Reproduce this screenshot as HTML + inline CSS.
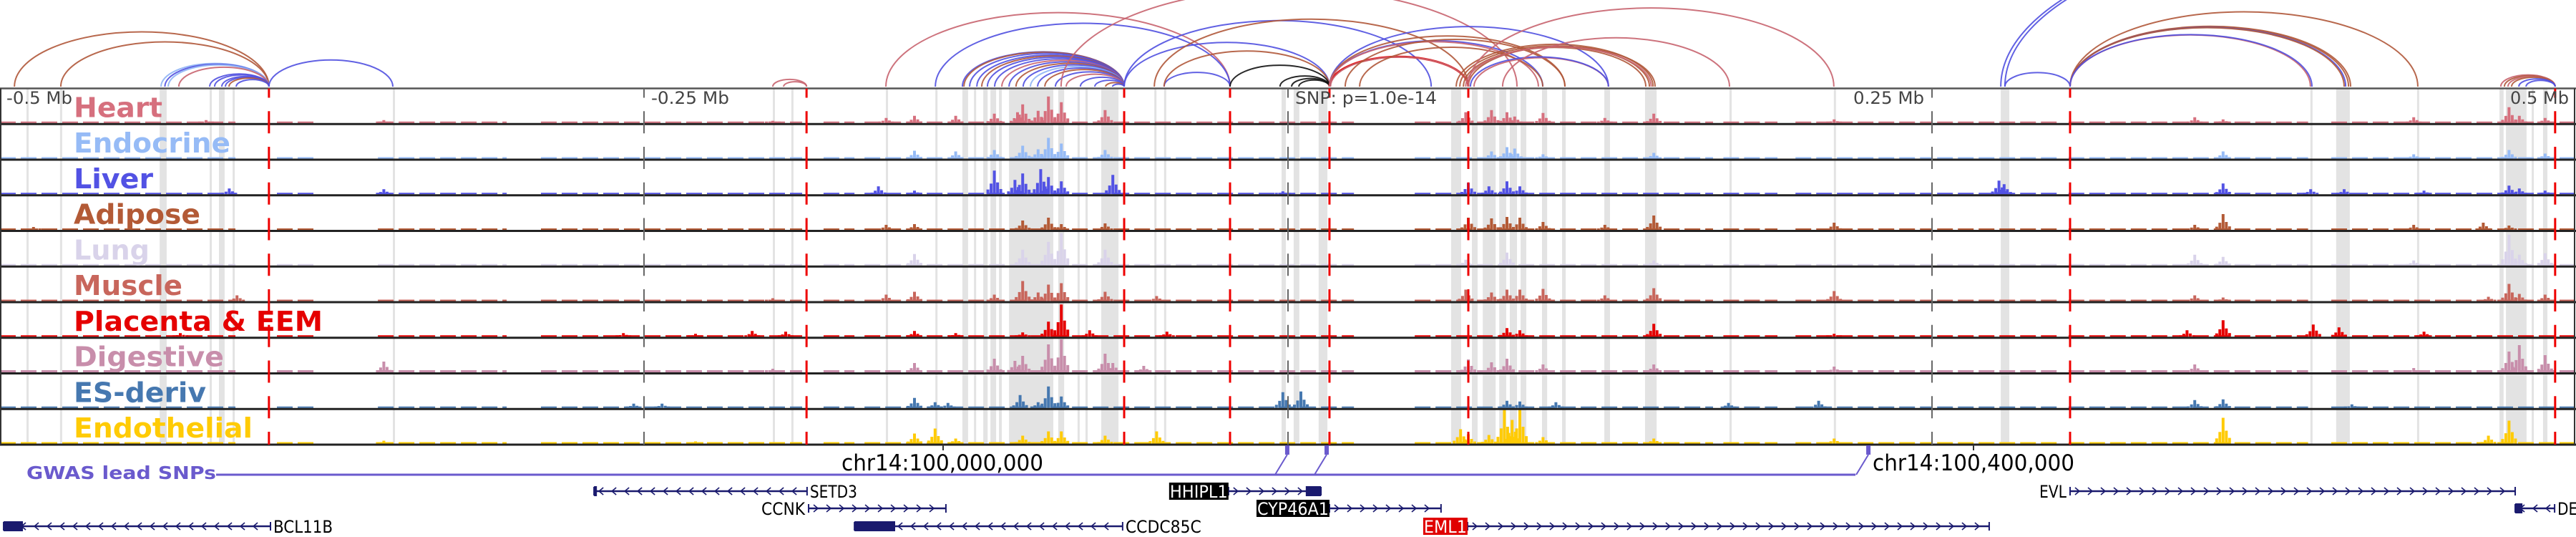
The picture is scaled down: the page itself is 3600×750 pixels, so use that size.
<!DOCTYPE html>
<html><head><meta charset="utf-8"><style>
html,body{margin:0;padding:0;background:#fff;}
svg{display:block;}
text{font-family:"DejaVu Sans","Liberation Sans",sans-serif;}
</style></head><body>
<svg id="chart" width="3600" height="750" viewBox="0 0 3600 750" xmlns="http://www.w3.org/2000/svg">
<g id="bands"></g>
<g id="arcs"></g>
<g id="tracks"></g>
<g id="frames"></g>
<g id="vlines"></g>
<g id="labels"></g>
<g id="axis"></g>
<g id="gwas"></g>
<g id="genes"></g>
</svg>
<script>
// ---------- data (positions in kb relative to lead SNP) ----------
const trackNames = ["Heart","Endocrine","Liver","Adipose","Lung","Muscle","Placenta & EEM","Digestive","ES-deriv","Endothelial"];
const trackColors = ["#d6707e","#96bbf6","#5252e4","#b35a36","#d9d3ea","#c8665c","#e50000","#c88eab","#4678b0","#ffcb05"];
const labelWidths = [124,219,111,177,106,152,348,210,185,250];
const baseLevels = [2,2,2,2,2,2,2,3,2,2];
const coverage = [[-500,-408.6],[-392.5,-376.7],[-353.3,-303.3],[-290,-188.6],[-180.3,-168.3],[-164.4,25.6],[49.2,165],[169,190],[197,250],[252,300],[303,396],[405,500]];
const peaksHeart = [[-420,4],[-351,4],[-200,3],[-156,7],[-145,10],[-129,10],[-114,13],[-105,15],[-103,26],[-97,17],[-93,37],[-88,29],[-71,18],[69,15],[79,18],[85,15],[88,9],[99,14],[123,7],[142,13],[212,5],[352,8],[363,5],[437,8],[474,22],[478,10],[488,7]];
const peaksEndocrine = [[-145,11],[-129,10],[-114,12],[-103,18],[-97,13],[-93,29],[-88,21],[-71,12],[79,10],[85,16],[88,14],[99,6],[142,8],[363,10],[437,6],[474,12],[488,7]];
const peaksLiver = [[-411,8],[-351,7],[-159,11],[-145,5],[-114,33],[-106,20],[-103,29],[-96,35],[-93,24],[-88,18],[-68,27],[-2,4],[70,16],[78,11],[85,18],[90,11],[276,19],[278,14],[363,15],[397,7],[410,7],[441,5],[474,12],[478,8],[488,5]];
const peaksAdipose = [[-487,4],[-156,7],[-145,8],[-103,13],[-93,17],[-88,8],[-71,9],[70,17],[79,16],[85,18],[90,17],[99,11],[123,7],[142,20],[212,10],[352,7],[363,22],[437,7],[464,10],[474,6]];
const peaksLung = [[-145,16],[-103,22],[-93,33],[-88,45],[-71,22],[69,8],[85,18],[142,7],[352,15],[363,12],[437,7],[474,43],[478,15],[488,17]];
const peaksMuscle = [[-408,8],[-200,4],[-156,9],[-145,13],[-114,9],[-103,28],[-97,12],[-93,23],[-88,25],[-71,13],[-51,7],[69,16],[79,12],[85,16],[90,16],[99,17],[123,8],[142,18],[212,14],[352,8],[363,5],[466,6],[474,24],[478,10],[488,9]];
const peaksPlacenta = [[-430,5],[-258,5],[-230,4],[-208,8],[-195,7],[-145,8],[-129,5],[-103,6],[-93,21],[-88,45],[-77,9],[-47,7],[85,12],[90,9],[142,18],[212,4],[349,9],[363,23],[398,17],[408,13],[441,7]];
const peaksDigestive = [[-351,15],[-200,5],[-145,13],[-114,19],[-106,16],[-103,23],[-93,39],[-88,46],[-71,26],[-68,13],[-56,9],[70,18],[79,14],[85,19],[99,11],[142,11],[212,8],[352,11],[437,6],[474,29],[478,38],[488,24]];
const peaksEsDeriv = [[-254,6],[-243,6],[-145,14],[-137,8],[-132,7],[-104,18],[-97,8],[-93,30],[-88,16],[-2,22],[5,23],[85,10],[90,9],[104,8],[171,7],[206,10],[352,11],[363,12],[413,5]];
const peaksEndothelial = [[-351,4],[-230,3],[-145,14],[-137,21],[-129,7],[-103,11],[-93,17],[-88,17],[-71,11],[-51,17],[67,20],[70,13],[78,12],[84,47],[87,33],[90,47],[99,9],[142,7],[212,7],[363,36],[466,11],[474,32]];
const trackPeaks = [peaksHeart,peaksEndocrine,peaksLiver,peaksAdipose,peaksLung,peaksMuscle,peaksPlacenta,peaksDigestive,peaksEsDeriv,peaksEndothelial];
const bands = [[-489.7,-488.9],[-476.7,-475.9],[-438,-435.3],[-418.6,-417.8],[-415,-412.8],[-409.7,-408.9],[-347.5,-346.7],[-200,-199.2],[-192.8,-192],[-156.1,-155.3],[-136.9,-136.1],[-126.4,-124.2],[-121.9,-121.1],[-118.3,-116.6],[-115.5,-113.3],[-112.2,-111.1],[-108.3,-91.1],[-89.2,-86.9],[-81.7,-80.9],[-78.6,-77.8],[-72.5,-65.8],[-51.9,-51.1],[-48.1,-47.3],[-2.5,-0.8],[2.2,4.4],[11.9,15.3],[63.3,67.2],[71.4,73.6],[75.6,80.6],[82,84.7],[86.1,88.9],[90.3,92.5],[98.6,100.6],[106.4,107.8],[122.8,125],[138.6,143.1],[171.4,172.2],[211.9,212.7],[276.7,280],[396.9,397.7],[406.9,412.2],[438.3,439.1],[470.3,471.9],[472.8,480.8],[482.8,483.6],[487.2,488.9]];
const arcColors = ["#c8646f","#5050e0","#b0583a","#8fb4f5","#111111","#e00000"];
const arcs = [[-494.4,-395.6,2],[-476.4,-395.6,2],[-437.5,-395.6,3],[-436,-395.6,1],[-434.7,-395.6,3],[-430.6,-395.6,0],[-418.6,-395.6,1],[-416.7,-395.6,1],[-413.9,-395.6,1],[-412.5,-395.6,1],[-411.1,-395.6,2],[-408.3,-395.6,1],[-395.6,-347.5,1],[-200,-186.9,0],[-195.8,-186.9,0],
[-156.1,-22.5,0],[-136.9,-22.5,1],[-126.4,-63.6,1],[-125.8,-63.6,2],[-123.6,-63.6,1],[-120.8,-63.6,1],[-118.9,-63.6,2],[-116.7,-63.6,1],[-113.9,-63.6,1],[-111.1,-63.6,0],[-108.3,-63.6,1],[-105.6,-63.6,2],[-102.8,-63.6,1],[-100,-63.6,3],[-97.2,-63.6,1],[-94.4,-63.6,2],[-90.3,-63.6,1],[-86.1,-63.6,0],[-80.6,-63.6,1],[-75,-63.6,1],[-70.8,-63.6,2],[-68.1,-63.6,1],
[-88.1,88.9,0],[-63.6,16.1,1],[-63.6,55.6,1],[-51.9,70,2],[-48.1,-22.5,1],[-48.1,16.1,2],[-22.5,16.1,4],[-3.1,16.1,4],[1.4,16.1,4],[4.2,16.1,4],
[16.1,70,5],[16.5,70,0],[16.1,98.9,1],[16.1,124.4,1],[16.1,107.5,2],[16.1,97.2,0],[22.2,107.5,2],[27.8,98.9,2],[65.3,141.7,2],[66.7,140.3,2],[68.1,138.9,2],[70,142.5,2],[69,141,0],[72.2,124.4,0],[70.8,124.4,1],[70,211.9,0],[83.3,171.4,0],
[276.7,560,1],[278.3,560,1],[278.3,303.6,1],[303.6,438.6,2],[303.6,412.5,2],[303.6,411.7,2],[303.6,410.6,1],[303.6,410,2],[303.6,396.9,0],[303.6,397.5,1],
[470.8,491.9,0],[472.2,491.9,2],[473.6,491.9,0],[475,491.9,2],[477.8,491.9,1],[480.6,491.9,1]];
const redLines = [-395.6,-186.9,-63.6,-22.5,16.1,70,303.6,491.9];
const tickKb = [-250,0,250];
const tickLabels = ["-0.5 Mb","-0.25 Mb","SNP: p=1.0e-14","0.25 Mb","0.5 Mb"];
const snpKb = [-0.3,15,225.3];

// ---------- scales ----------
const X = kb => 1800 + kb*3.6;
const TOP = 123.5, TH = 49.75;
const trackTop = i => TOP + i*TH;
const Y = (i,v) => trackTop(i)+TH-1.5 - v;
const NS = "http://www.w3.org/2000/svg";
function mk(tag, attrs, parent){const e=document.createElementNS(NS,tag);for(const k in attrs)e.setAttribute(k,attrs[k]);parent.appendChild(e);return e;}

// bands
const gB = document.getElementById('bands');
bands.forEach(b=>{
  const x1=X(b[0]), w=Math.max(3,X(b[1])-x1);
  const r=mk('rect',{x:x1,y:TOP,width:w,height:TH*10,fill:'#e3e3e3'},gB);
  
  
});

// arcs
const gA = document.getElementById('arcs');
arcs.forEach(a=>{
  const x1=X(a[0]), x2=X(a[1]), rx=(x2-x1)/2, ry=(x2-x1)*0.215;
  const p=mk('path',{d:`M${x1},121 A${rx},${ry} 0 0 1 ${x2},121`,fill:'none',stroke:arcColors[a[2]],'stroke-width':a[2]===5?3:2,'stroke-opacity':0.9},gA);
  
  
});

// tracks
const gT = document.getElementById('tracks');
trackNames.forEach((nm,i)=>{
  const g=mk('g',{},gT);
  
  
  const col=trackColors[i];
  coverage.forEach(c=>{
    const x1=X(c[0]), x2=X(c[1]);
    const yb=Y(i,baseLevels[i]/2);
    const l=mk('line',{x1:x1,x2:x2,y1:yb,y2:yb,stroke:col,'stroke-width':baseLevels[i],'stroke-dasharray':'22 7'},g);
    
    
  });
  trackPeaks[i].forEach(p=>{
    const cx=X(p[0]), h=p[1];
    [[-9,0.2],[-4.5,0.45],[4.5,0.5],[9,0.22],[0,1]].forEach(s=>{
      const hh=Math.max(baseLevels[i],h*s[1]);
      const r=mk('rect',{x:cx+s[0]-2,y:Y(i,hh),width:4,height:hh,fill:col},g);
      
      
    });
  });
});

// frames
const gF=document.getElementById('frames');
for(let i=0;i<=10;i++){
  const l=mk('line',{x1:0,x2:3600,y1:trackTop(i),y2:trackTop(i),stroke:i===0?'#555':'#222','stroke-width':i===0?2.5:3},gF);
  
  
}
const lb=mk('line',{x1:1,x2:1,y1:TOP,y2:trackTop(10),stroke:'#333','stroke-width':2},gF);


const rb=mk('line',{x1:3598,x2:3598,y1:TOP,y2:trackTop(10),stroke:'#333','stroke-width':2},gF);



// vertical dashed lines
const gV=document.getElementById('vlines');
tickKb.forEach(k=>{
  const l=mk('line',{x1:X(k),x2:X(k),y1:TOP,y2:trackTop(10),stroke:'#666','stroke-width':2,'stroke-dasharray':'31 18.75','stroke-dashoffset':18},gV);
  
  
});
redLines.forEach(k=>{
  const l=mk('line',{x1:X(k),x2:X(k),y1:TOP,y2:trackTop(10),stroke:'#ee0000','stroke-width':3,'stroke-dasharray':'31 18.75','stroke-dashoffset':18},gV);
  
  
});

// labels
const gL=document.getElementById('labels');
trackNames.forEach((nm,i)=>{
  const t=mk('text',{x:103,y:trackTop(i)+TH-10,'font-size':38,'font-weight':'bold',fill:trackColors[i],textLength:labelWidths[i],lengthAdjust:'spacingAndGlyphs'},gL);
  t.textContent=nm;
  
  
});

// axis labels
const gX=document.getElementById('axis');
const tickPos=[[9,92],[910,109],[1810,198],[2590,99],[3508,82]];
tickLabels.forEach((s,i)=>{
  const t=mk('text',{x:tickPos[i][0],y:145,'font-size':24,fill:'#444',textLength:tickPos[i][1],lengthAdjust:'spacingAndGlyphs'},gX);
  t.textContent=s;
  
  
});
[[1318,1176,"chr14:100,000,000"],[2758,2617,"chr14:100,400,000"]].forEach(c=>{
  const tk=mk('line',{x1:c[0],x2:c[0],y1:621,y2:629,stroke:'#333','stroke-width':2},gX);
  
  
  const t=mk('text',{x:c[1],y:657,'font-size':31,fill:'#000',textLength:282,lengthAdjust:'spacingAndGlyphs'},gX);
  t.textContent=c[2];
  
  
});

// GWAS
const gG=document.getElementById('gwas');
const gt=mk('text',{x:37,y:669,'font-size':25,'font-weight':'bold',fill:'#6a5acd',textLength:265,lengthAdjust:'spacingAndGlyphs'},gG);
gt.textContent="GWAS lead SNPs";


const lastX=X(snpKb[snpKb.length-1])-18;
const gl=mk('line',{x1:302,x2:lastX,y1:663,y2:663,stroke:'#6a5acd','stroke-width':3},gG);


snpKb.forEach(k=>{
  const x=X(k);
  const l=mk('line',{x1:x-17,y1:663,x2:x,y2:635,stroke:'#6a5acd','stroke-width':2},gG);
  
  
  const r=mk('rect',{x:x-3,y:622,width:6,height:13,fill:'#6a5acd'},gG);
  
  
});

// genes
const gN=document.getElementById('genes');
const rowY=[686,710,735];
const genes=[
 {n:"BCL11B",s:-498.6,e:-395,r:2,d:-1,ex:[[-498.6,-491.1]],lab:'right',lw:85},
 {n:"SETD3",s:-269.4,e:-186.7,r:0,d:-1,ex:[[-269.4,-268.5]],lab:'right',lw:68},
 {n:"CCNK",s:-186.1,e:-132.8,r:1,d:1,ex:[],lab:'left',lw:63},
 {n:"CCDC85C",s:-168.3,e:-64.2,r:2,d:-1,ex:[[-168.3,-152.5]],lab:'right',lw:108},
 {n:"HHIPL1",s:-23.1,e:12.8,r:0,d:1,ex:[[6.9,12.8]],lab:'box',bg:'#000',lw:83},
 {n:"CYP46A1",s:16.1,e:59.4,r:1,d:1,ex:[],lab:'box',bg:'#000',lw:102},
 {n:"EML1",s:69.7,e:272.2,r:2,d:1,ex:[],lab:'box',bg:'#e00000',lw:62},
 {n:"EVL",s:303.6,e:476.4,r:0,d:1,ex:[],lab:'left',lw:40},
 {n:"DE",s:476.4,e:491.7,r:1,d:-1,ex:[[476.4,479.2]],lab:'right',lw:30}
];
genes.forEach(gd=>{
  const g=mk('g',{},gN);
  
  
  const y=rowY[gd.r], x1=X(gd.s), x2=X(gd.e);
  mk('line',{x1:x1,x2:x2,y1:y,y2:y,stroke:'#1a1a6e','stroke-width':2.5},g);
  mk('line',{x1:x1,x2:x1,y1:y-6,y2:y+6,stroke:'#1a1a6e','stroke-width':2},g);
  mk('line',{x1:x2,x2:x2,y1:y-6,y2:y+6,stroke:'#1a1a6e','stroke-width':2},g);
  let d='';
  for(let x=x1+10;x<x2-6;x+=18){d+=gd.d>0?`M${x-3},${y-5} L${x+3},${y} L${x-3},${y+5} `:`M${x+3},${y-5} L${x-3},${y} L${x+3},${y+5} `;}
  mk('path',{d:d,fill:'none',stroke:'#1a1a6e','stroke-width':1.6},g);
  gd.ex.forEach(e=>mk('rect',{x:X(e[0]),y:y-7,width:Math.max(4,X(e[1])-X(e[0])),height:14,fill:'#1a1a6e'},g));
  let tx, fill='#000';
  if(gd.lab==='right') tx=x2+3;
  else if(gd.lab==='left') tx=x1-gd.lw-4;
  else {tx=x1-gd.lw; fill='#fff'; mk('rect',{x:tx,y:y-12,width:gd.lw,height:24,fill:gd.bg},g);}
  const t=mk('text',{x:tx+1,y:y+9,'font-size':24,fill:fill,textLength:gd.lw-2,lengthAdjust:'spacingAndGlyphs'},g);
  t.textContent=gd.n;
});
</script>
</body></html>
